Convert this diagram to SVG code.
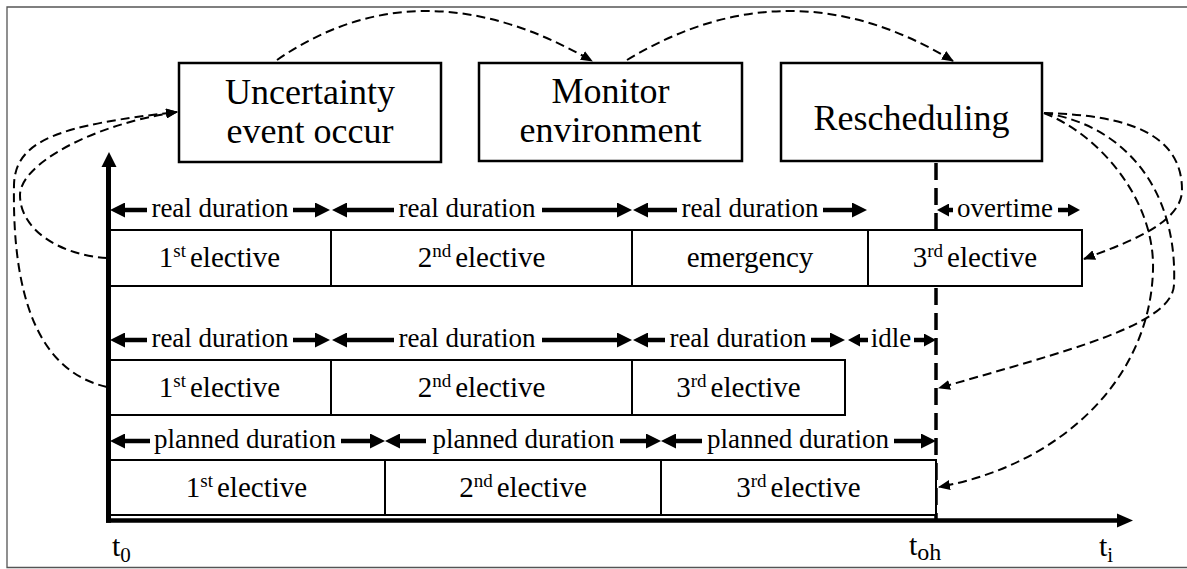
<svg xmlns="http://www.w3.org/2000/svg" width="1187" height="569" viewBox="0 0 1187 569">
<style>
text{font-family:"Liberation Serif","Times New Roman",serif;fill:#000}
.nb{font-size:36px;text-anchor:middle}
.el{font-size:29px;text-anchor:middle}
.du{font-size:27px;text-anchor:middle}
.tl{font-size:30px}
.node rect{fill:#fff;stroke:#000;stroke-width:2.5}
.cell{fill:#fff;stroke:#000;stroke-width:2}
.dur{fill:none;stroke:#000;stroke-width:4.5;marker-end:url(#ah)}
.durs{fill:none;stroke:#000;stroke-width:4.5;marker-end:url(#ahs)}
.cv{fill:none;stroke:#000;stroke-width:2;stroke-dasharray:9 5;marker-end:url(#dh)}
</style>
<defs>
<marker id="ah" viewBox="0 0 15 15" refX="0" refY="7.5" markerWidth="15" markerHeight="15" markerUnits="userSpaceOnUse" orient="auto"><path d="M0,0 L15,7.5 L0,15 z"/></marker>
<marker id="ahs" viewBox="0 0 12 13" refX="0" refY="6.5" markerWidth="12" markerHeight="13" markerUnits="userSpaceOnUse" orient="auto"><path d="M0,0 L12,6.5 L0,13 z"/></marker>
<marker id="dh" viewBox="0 0 12 10" refX="11" refY="5" markerWidth="12" markerHeight="10" markerUnits="userSpaceOnUse" orient="auto"><path d="M0,0 L12,5 L0,10 z"/></marker>
</defs>
<rect width="1187" height="569" fill="#fff"/>
<path d="M1187,7 H7 V567.5 H1187" fill="none" stroke="#555" stroke-width="1.3"/>

<!-- overhead time dashed line -->
<line x1="936" y1="163" x2="936" y2="521" stroke="#000" stroke-width="3.5" stroke-dasharray="17 8"/>

<!-- schedule rows -->
<g id="row1">
<rect class="cell" x="108" y="230" width="223" height="56"/>
<rect class="cell" x="331" y="230" width="301" height="56"/>
<rect class="cell" x="632" y="230" width="236" height="56"/>
<rect class="cell" x="868" y="230" width="214" height="56"/>
<text class="el" x="219.5" y="267">1<tspan font-size="19" dy="-10">st</tspan><tspan dx="4" dy="10">elective</tspan></text>
<text class="el" x="481.5" y="267">2<tspan font-size="19" dy="-10">nd</tspan><tspan dx="4" dy="10">elective</tspan></text>
<text class="el" x="750" y="267">emergency</text>
<text class="el" x="975" y="267">3<tspan font-size="19" dy="-10">rd</tspan><tspan dx="4" dy="10">elective</tspan></text>
</g>
<g id="row2">
<rect class="cell" x="108" y="360" width="223" height="55"/>
<rect class="cell" x="331" y="360" width="301" height="55"/>
<rect class="cell" x="632" y="360" width="213" height="55"/>
<text class="el" x="219.5" y="397">1<tspan font-size="19" dy="-10">st</tspan><tspan dx="4" dy="10">elective</tspan></text>
<text class="el" x="481.5" y="397">2<tspan font-size="19" dy="-10">nd</tspan><tspan dx="4" dy="10">elective</tspan></text>
<text class="el" x="738.5" y="397">3<tspan font-size="19" dy="-10">rd</tspan><tspan dx="4" dy="10">elective</tspan></text>
</g>
<g id="row3">
<rect class="cell" x="108" y="460" width="277" height="55"/>
<rect class="cell" x="385" y="460" width="276" height="55"/>
<rect class="cell" x="661" y="460" width="275" height="55"/>
<text class="el" x="246.5" y="497">1<tspan font-size="19" dy="-10">st</tspan><tspan dx="4" dy="10">elective</tspan></text>
<text class="el" x="523" y="497">2<tspan font-size="19" dy="-10">nd</tspan><tspan dx="4" dy="10">elective</tspan></text>
<text class="el" x="798.5" y="497">3<tspan font-size="19" dy="-10">rd</tspan><tspan dx="4" dy="10">elective</tspan></text>
</g>

<!-- duration labels -->
<g id="durations1">
<path class="dur" d="M147,210 H125"/><text class="du" x="220" y="217">real duration</text><path class="dur" d="M293,210 H315"/>
<path class="dur" d="M394,210 H347"/><text class="du" x="467" y="217">real duration</text><path class="dur" d="M542,210 H617"/>
<path class="dur" d="M677,210 H648"/><text class="du" x="750" y="217">real duration</text><path class="dur" d="M823,210 H852"/>
<path class="durs" d="M953,210 H949"/><text class="du" x="1005" y="217" font-size="28">overtime</text><path class="durs" d="M1058,210 H1068"/>
</g>
<g id="durations2">
<path class="dur" d="M147,340 H125"/><text class="du" x="220" y="347">real duration</text><path class="dur" d="M293,340 H315"/>
<path class="dur" d="M394,340 H347"/><text class="du" x="467" y="347">real duration</text><path class="dur" d="M542,340 H617"/>
<path class="dur" d="M665,340 H648"/><text class="du" x="738" y="347">real duration</text><path class="dur" d="M811,340 H830"/>
<path class="durs" d="M868,340 H860"/><text class="du" x="891" y="347">idle</text><path class="durs" d="M914,340 H924"/>
</g>
<g id="durations3">
<path class="dur" d="M150,441 H125"/><text class="du" x="245" y="448">planned duration</text><path class="dur" d="M341,441 H370"/>
<path class="dur" d="M426,441 H400"/><text class="du" x="523.5" y="448">planned duration</text><path class="dur" d="M620,441 H646"/>
<path class="dur" d="M702,441 H676"/><text class="du" x="798" y="448">planned duration</text><path class="dur" d="M894,441 H921"/>
</g>

<!-- axes -->
<g id="axes">
<line x1="108.5" y1="166" x2="108.5" y2="522.8" stroke="#000" stroke-width="5"/>
<polygon points="109,152 101.5,167 116.5,167"/>
<line x1="106" y1="520.5" x2="1118" y2="520.5" stroke="#000" stroke-width="4.5"/>
<polygon points="1133,520.5 1117,513.5 1117,527.5"/>
<text class="tl" x="112" y="556">t<tspan font-size="21" dy="6">0</tspan></text>
<text class="tl" x="909" y="555">t<tspan font-size="24" dy="5">oh</tspan></text>
<text class="tl" x="1099" y="556">t<tspan font-size="21" dy="6">i</tspan></text>
</g>

<!-- connectors -->
<g id="connectors">
<path class="cv" d="M277,60 Q420,-38.5 592,61"/>
<path class="cv" d="M627,60 Q790,-38.5 953,61"/>
<path class="cv" d="M107,258 C60,255 20,230 20,195 C20,165 90,125 177,112"/>
<path class="cv" d="M107,387 C40,372 12,300 14,185 C15,140 60,125 177,112"/>
<path class="cv" d="M1044,113 C1130,115 1182,135 1182,190 C1182,225 1120,245 1084,259"/>
<path class="cv" d="M1044,113 C1125,125 1178,190 1174,285 C1172,325 1070,350 939,388"/>
<path class="cv" d="M1044,113 C1100,135 1155,200 1153,270 C1150,380 1060,465 939,487"/>
</g>

<!-- process nodes -->
<g id="uncertainty" class="node">
<rect x="179" y="63" width="262" height="99"/>
<text class="nb" x="310" y="104">Uncertainty</text>
<text class="nb" x="310" y="143">event occur</text>
</g>
<g id="monitor" class="node">
<rect x="479" y="63" width="263" height="98"/>
<text class="nb" x="610.5" y="103">Monitor</text>
<text class="nb" x="610.5" y="142">environment</text>
</g>
<g id="rescheduling" class="node">
<rect x="781" y="63" width="261" height="98"/>
<text class="nb" x="911.5" y="130">Rescheduling</text>
</g>
</svg>
